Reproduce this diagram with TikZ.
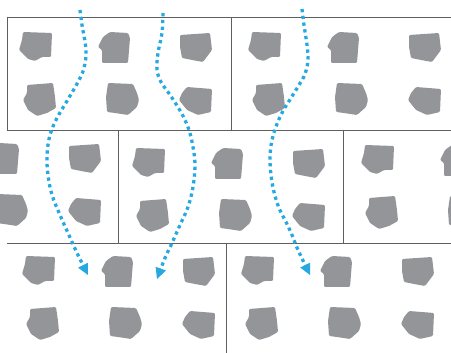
\documentclass[tikz,border=0pt]{standalone}
\usetikzlibrary{arrows.meta}
\definecolor{rockgray}{RGB}{148,149,153}
\definecolor{flowblue}{RGB}{38,169,224}
\definecolor{edgegray}{RGB}{95,95,95}
\tikzset{
  rock/.style={fill=rockgray, rounded corners=1.2pt},
  tileedge/.style={draw=edgegray, line width=0.9pt, dash pattern=on 0.45pt off 0.45pt},
  flow/.style={draw=flowblue, line width=3.3pt, dash pattern=on 3.3pt off 3.5pt,
    -{Triangle[width=11pt,length=11pt,line width=0pt]}},
  tile/.pic={
    \fill[rock] (16,15) -- (45,16) -- (44,40) -- (35,40) -- (28,44) -- (21,42) -- (12,33) -- (15,23) -- cycle;
    \fill[rock] (103,15) -- (121,16) -- (123,21) -- (121,46) -- (95,46) -- (95,33) -- (91,30) -- (96,20) -- cycle;
    \fill[rock] (173,18) -- (203,16) -- (205,33) -- (196,45) -- (185,43) -- (175,41) -- (173,30) -- cycle;
    \fill[rock] (20,68) -- (46,66) -- (48,80) -- (49,91) -- (40,96) -- (30,99) -- (21,93) -- (16,83) -- (20,76) -- cycle;
    \fill[rock] (101,66) -- (126,67) -- (130,76) -- (132,83) -- (130,90) -- (121,98) -- (108,96) -- (100,95) -- (99,80) -- cycle;
    \fill[rock] (180,70) -- (205,72) -- (204,95) -- (191,98) -- (180,93) -- (172,83) -- (175,76) -- cycle;
  }
}
\begin{document}
\begin{tikzpicture}[x=1pt,y=-1pt]
\useasboundingbox (0,0) rectangle (451,353);
\clip (0,0) rectangle (451,353);
% tile edges
\draw[tileedge] (7,17) -- (460,17);
\draw[tileedge] (7,130) -- (460,130);
\draw[tileedge] (7,243) -- (460,243);
\draw[tileedge] (7,17) -- (7,130);
\draw[tileedge] (231,17) -- (231,130);
\draw[tileedge] (118,130) -- (118,243);
\draw[tileedge] (343,130) -- (343,243);
\draw[tileedge] (226,243) -- (226,360);
% rock tiles
\pic at (7,17) {tile};
\pic at (236,17) {tile};
\pic at (-104,128) {tile};
\pic at (120,133) {tile};
\pic at (349,130) {tile};
\pic at (10,241) {tile};
\pic at (229,241) {tile};
% flow arrows
\draw[flow] plot[smooth, tension=0.6] coordinates {(80,10) (82,25) (86,50) (84,68) (78,82) (67,101) (57,118) (50,135) (47,155) (48,175) (52,195) (60,215) (68,233) (77,253) (88,275)};
\draw[flow] plot[smooth, tension=0.6] coordinates {(163,13) (162,33) (158,53) (157,70) (161,82) (168,92) (176,104) (183,116) (189,130) (193,147) (195,165) (193,187) (188,207) (180,225) (172,243) (165,258) (157,279)};
\draw[flow] plot[smooth, tension=0.6] coordinates {(302,9) (304,25) (307,45) (308,60) (305,74) (299,85) (291,98) (283,111) (277,124) (272,140) (270,157) (271,175) (274,192) (279,208) (286,222) (292,235) (298,250) (310,275)};
\end{tikzpicture}
\end{document}
